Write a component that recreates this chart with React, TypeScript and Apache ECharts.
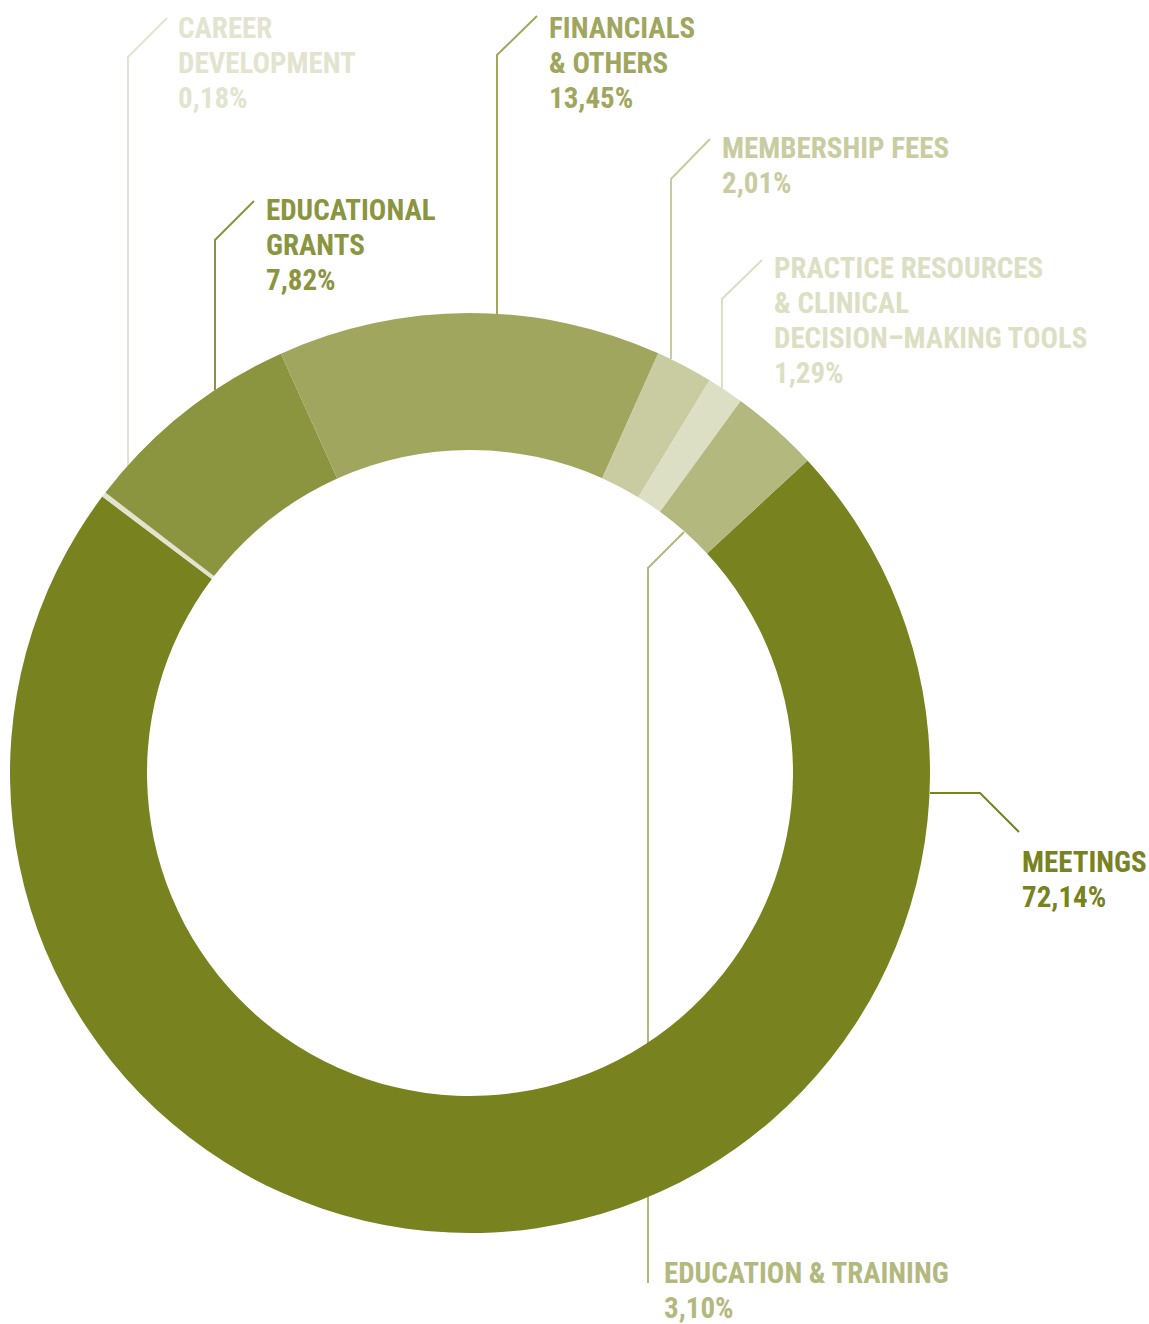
import React, { useEffect, useRef } from "react";
import * as echarts from "echarts";

const categories = [
  "MEETINGS",
  "CAREER\nDEVELOPMENT",
  "EDUCATIONAL\nGRANTS",
  "FINANCIALS\n& OTHERS",
  "MEMBERSHIP FEES",
  "PRACTICE RESOURCES\n& CLINICAL\nDECISION–MAKING TOOLS",
  "EDUCATION & TRAINING",
];
const values = [72.14, 0.18, 7.82, 13.45, 2.01, 1.29, 3.1];
const colors = ["#78821e", "#e2e4cf", "#8b943f", "#a0a65e", "#c8cca0", "#dcdfc4", "#b3b87f"];

// label placement (layout only)
const labelPos: number[][] = [
  [1022, 844],
  [178, 10],
  [266, 192],
  [549, 10],
  [722, 130],
  [774, 250],
  [664, 1255],
];
const leaderLines: number[][][] = [
  [[930, 793], [980, 793], [1019, 832]],
  [[128, 513], [128, 57], [167, 18]],
  [[215, 390], [215, 240], [254, 201]],
  [[497, 316], [497, 55], [537, 16]],
  [[671, 359], [671, 179], [710, 139]],
  [[722, 388], [722, 299], [762, 260]],
  [[684, 532], [648, 568], [648, 1283]],
];

const FONT = "'Liberation Sans Narrow', 'Roboto Condensed', 'Arial Narrow', Roboto, sans-serif";

export default function App() {
  const ref = useRef<HTMLDivElement>(null);
  useEffect(() => {
    if (!ref.current) return;
    const chart = echarts.init(ref.current, undefined, { renderer: "svg" });
    chart.setOption({
      animation: false,
      backgroundColor: "#ffffff",
      series: [
        {
          type: "pie",
          center: [470, 773],
          radius: [323, 460],
          startAngle: 42.8,
          clockwise: true,
          silent: true,
          avoidLabelOverlap: false,
          emphasis: { disabled: true },
          data: categories.map((name, i) => ({
            name,
            value: values[i],
            itemStyle: { color: colors[i] },
            label: { color: colors[i] },
            labelLine: { lineStyle: { color: colors[i] } },
          })),
          label: {
            show: true,
            position: "outer",
            fontFamily: FONT,
            fontWeight: "bold",
            fontSize: 29,
            lineHeight: 35,
            align: "left",
            formatter: (p: any) =>
              p.name + "\n" + Number(p.value).toFixed(2).replace(".", ",") + "%",
          },
          labelLine: {
            show: true,
            smooth: false,
            lineStyle: { width: 2 },
          },
          labelLayout: (p: any) => ({
            x: labelPos[p.dataIndex][0],
            y: labelPos[p.dataIndex][1],
            align: "left",
            verticalAlign: "top",
            labelLinePoints: leaderLines[p.dataIndex],
          }),
        },
      ],
    });
    return () => chart.dispose();
  }, []);
  return (
    <div
      ref={ref}
      style={{ position: "fixed", left: 0, top: 0, width: 1149, height: 1324, background: "#fff" }}
    />
  );
}
